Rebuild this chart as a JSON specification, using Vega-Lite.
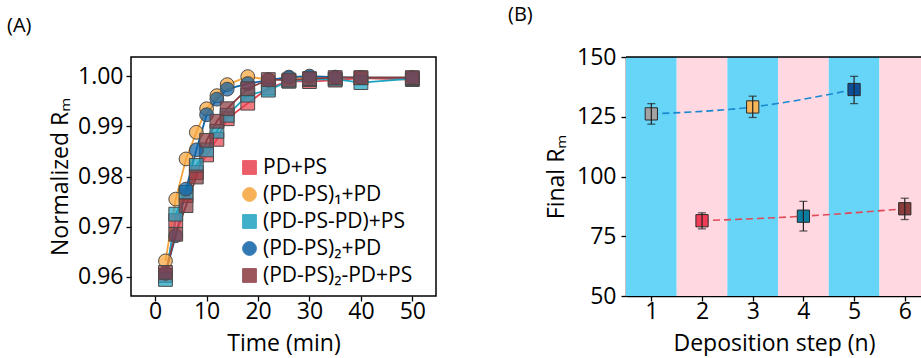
{
  "$schema": "https://vega.github.io/schema/vega-lite/v6.json",
  "padding": {"left": 6, "top": 5, "right": 0, "bottom": 0},
  "spacing": 71,
  "background": "white",
  "config": {
    "font": "Open Sans",
    "view": {"stroke": null},
    "axis": {
      "labelFont": "Open Sans", "labelFontSize": 23, "labelColor": "black",
      "titleFont": "Open Sans", "titleFontSize": 23, "titleFontWeight": "normal", "titleColor": "black",
      "tickColor": "black", "tickSize": 5, "tickWidth": 1.3,
      "domainColor": "black", "domainWidth": 1.5, "grid": false, "labelPadding": 3
    },
    "axisX": {"labelPadding": -1},
    "title": {"font": "Open Sans", "fontSize": 20, "fontWeight": "normal", "color": "black"}
  },
  "hconcat": [
    {
      "width": 305,
      "height": 239,
      "view": {"stroke": "black", "strokeWidth": 1.5},
      "title": {"text": "(A)", "anchor": "start", "frame": "group", "dx": -124, "offset": 5, "baseline": "alphabetic"},
      "data": {"values": [
        {"s": "PD+PS", "t": 2, "v": 0.9603}, {"s": "PD+PS", "t": 4, "v": 0.9712}, {"s": "PD+PS", "t": 6, "v": 0.9762}, {"s": "PD+PS", "t": 8, "v": 0.9808}, {"s": "PD+PS", "t": 10, "v": 0.9843}, {"s": "PD+PS", "t": 12, "v": 0.9874}, {"s": "PD+PS", "t": 14, "v": 0.9915}, {"s": "PD+PS", "t": 18, "v": 0.9946}, {"s": "PD+PS", "t": 22, "v": 0.9976}, {"s": "PD+PS", "t": 26, "v": 0.999}, {"s": "PD+PS", "t": 30, "v": 0.9989}, {"s": "PD+PS", "t": 35, "v": 0.9992}, {"s": "PD+PS", "t": 40, "v": 0.9996}, {"s": "PD+PS", "t": 50, "v": 0.9993},
        {"s": "(PD-PS)₁+PD", "t": 2, "v": 0.9632}, {"s": "(PD-PS)₁+PD", "t": 4, "v": 0.9755}, {"s": "(PD-PS)₁+PD", "t": 6, "v": 0.9835}, {"s": "(PD-PS)₁+PD", "t": 8, "v": 0.9888}, {"s": "(PD-PS)₁+PD", "t": 10, "v": 0.9935}, {"s": "(PD-PS)₁+PD", "t": 12, "v": 0.9961}, {"s": "(PD-PS)₁+PD", "t": 14, "v": 0.9983}, {"s": "(PD-PS)₁+PD", "t": 18, "v": 0.9999}, {"s": "(PD-PS)₁+PD", "t": 22, "v": 0.9993}, {"s": "(PD-PS)₁+PD", "t": 26, "v": 0.9996}, {"s": "(PD-PS)₁+PD", "t": 30, "v": 0.9997}, {"s": "(PD-PS)₁+PD", "t": 35, "v": 0.9997}, {"s": "(PD-PS)₁+PD", "t": 40, "v": 0.9997}, {"s": "(PD-PS)₁+PD", "t": 50, "v": 0.9997},
        {"s": "(PD-PS-PD)+PS", "t": 2, "v": 0.9595}, {"s": "(PD-PS-PD)+PS", "t": 4, "v": 0.9725}, {"s": "(PD-PS-PD)+PS", "t": 6, "v": 0.9768}, {"s": "(PD-PS-PD)+PS", "t": 8, "v": 0.9822}, {"s": "(PD-PS-PD)+PS", "t": 10, "v": 0.9853}, {"s": "(PD-PS-PD)+PS", "t": 12, "v": 0.989}, {"s": "(PD-PS-PD)+PS", "t": 14, "v": 0.9922}, {"s": "(PD-PS-PD)+PS", "t": 18, "v": 0.9962}, {"s": "(PD-PS-PD)+PS", "t": 22, "v": 0.9972}, {"s": "(PD-PS-PD)+PS", "t": 26, "v": 0.999}, {"s": "(PD-PS-PD)+PS", "t": 30, "v": 0.9993}, {"s": "(PD-PS-PD)+PS", "t": 35, "v": 0.9994}, {"s": "(PD-PS-PD)+PS", "t": 40, "v": 0.9987}, {"s": "(PD-PS-PD)+PS", "t": 50, "v": 0.9995},
        {"s": "(PD-PS)₂+PD", "t": 2, "v": 0.9607}, {"s": "(PD-PS)₂+PD", "t": 4, "v": 0.9682}, {"s": "(PD-PS)₂+PD", "t": 6, "v": 0.9775}, {"s": "(PD-PS)₂+PD", "t": 8, "v": 0.9853}, {"s": "(PD-PS)₂+PD", "t": 10, "v": 0.9923}, {"s": "(PD-PS)₂+PD", "t": 12, "v": 0.9954}, {"s": "(PD-PS)₂+PD", "t": 14, "v": 0.9974}, {"s": "(PD-PS)₂+PD", "t": 18, "v": 0.9985}, {"s": "(PD-PS)₂+PD", "t": 22, "v": 0.9992}, {"s": "(PD-PS)₂+PD", "t": 26, "v": 0.9998}, {"s": "(PD-PS)₂+PD", "t": 30, "v": 1.0}, {"s": "(PD-PS)₂+PD", "t": 35, "v": 0.9998}, {"s": "(PD-PS)₂+PD", "t": 40, "v": 0.9997}, {"s": "(PD-PS)₂+PD", "t": 50, "v": 0.9997},
        {"s": "(PD-PS)₂-PD+PS", "t": 2, "v": 0.9609}, {"s": "(PD-PS)₂-PD+PS", "t": 4, "v": 0.9685}, {"s": "(PD-PS)₂-PD+PS", "t": 6, "v": 0.9742}, {"s": "(PD-PS)₂-PD+PS", "t": 8, "v": 0.9799}, {"s": "(PD-PS)₂-PD+PS", "t": 10, "v": 0.9872}, {"s": "(PD-PS)₂-PD+PS", "t": 12, "v": 0.991}, {"s": "(PD-PS)₂-PD+PS", "t": 14, "v": 0.9935}, {"s": "(PD-PS)₂-PD+PS", "t": 18, "v": 0.9975}, {"s": "(PD-PS)₂-PD+PS", "t": 22, "v": 0.9993}, {"s": "(PD-PS)₂-PD+PS", "t": 26, "v": 0.9992}, {"s": "(PD-PS)₂-PD+PS", "t": 30, "v": 0.9995}, {"s": "(PD-PS)₂-PD+PS", "t": 35, "v": 0.9997}, {"s": "(PD-PS)₂-PD+PS", "t": 40, "v": 0.9997}, {"s": "(PD-PS)₂-PD+PS", "t": 50, "v": 0.9997}
      ]},
      "encoding": {
        "x": {"field": "t", "type": "quantitative", "scale": {"domain": [-4.7, 54.6], "nice": false, "zero": false},
              "axis": {"values": [0, 10, 20, 30, 40, 50], "title": "Time (min)", "domain": false, "titlePadding": 9}},
        "y": {"field": "v", "type": "quantitative", "scale": {"domain": [0.9562, 1.0038], "nice": false, "zero": false},
              "axis": {"values": [0.96, 0.97, 0.98, 0.99, 1.0], "format": ".2f", "title": "Normalized Rₘ", "domain": false, "titlePadding": 5}},
        "color": {"field": "s", "type": "nominal",
                  "scale": {"domain": ["PD+PS", "(PD-PS)₁+PD", "(PD-PS-PD)+PS", "(PD-PS)₂+PD", "(PD-PS)₂-PD+PS"],
                            "range": ["#e8424f", "#f6a53c", "#1fa2c0", "#0f62a6", "#8b3a40"]},
                  "legend": {
                    "title": null, "orient": "none", "legendX": 108, "legendY": 100, "padding": 0,
                    "labelFont": "Open Sans", "labelFontSize": 21, "labelColor": "black", "labelLimit": 400, "labelOffset": 3,
                    "symbolSize": 190, "rowPadding": 5, "symbolStrokeWidth": 1, "symbolStrokeColor": "#4a4a4a", "symbolOpacity": 0.85
                  }}
      },
      "layer": [
        {"mark": {"type": "line", "strokeWidth": 1.8}},
        {"mark": {"type": "point", "filled": true, "size": 190, "stroke": "#4a4a4a", "strokeWidth": 1, "fillOpacity": 0.72, "opacity": 1},
         "encoding": {"shape": {"field": "s", "type": "nominal", "legend": null,
                       "scale": {"domain": ["PD+PS", "(PD-PS)₁+PD", "(PD-PS-PD)+PS", "(PD-PS)₂+PD", "(PD-PS)₂-PD+PS"],
                                 "range": ["square", "circle", "square", "circle", "square"]}}}}
      ]
    },
    {
      "width": 296,
      "height": 239,
      "title": {"text": "(B)", "anchor": "start", "frame": "group", "dx": -118, "offset": 5, "baseline": "alphabetic"},
      "resolve": {"scale": {"color": "independent", "fill": "independent", "stroke": "independent"}},
      "layer": [
        {
          "data": {"values": [
            {"lo": 0.5, "hi": 1.5, "kind": "blue"}, {"lo": 1.5, "hi": 2.5, "kind": "pink"},
            {"lo": 2.5, "hi": 3.5, "kind": "blue"}, {"lo": 3.5, "hi": 4.5, "kind": "pink"},
            {"lo": 4.5, "hi": 5.5, "kind": "blue"}, {"lo": 5.5, "hi": 6.5, "kind": "pink"}
          ]},
          "mark": {"type": "rect", "clip": true},
          "encoding": {
            "x": {"field": "lo", "type": "quantitative", "scale": {"domain": [0.5, 6.34], "nice": false, "zero": false},
                  "axis": {"values": [1, 2, 3, 4, 5, 6], "title": "Deposition step (n)", "titlePadding": 9}},
            "x2": {"field": "hi"},
            "fill": {"field": "kind", "type": "nominal", "scale": {"domain": ["blue", "pink"], "range": ["#66d5f8", "#ffd8e2"]}, "legend": null}
          }
        },
        {
          "data": {"values": [
            {"step": 1, "val": 126.2, "lo": 121.9, "hi": 130.5, "grp": "odd"},
            {"step": 2, "val": 81.5, "lo": 78.1, "hi": 84.8, "grp": "even"},
            {"step": 3, "val": 129.1, "lo": 124.7, "hi": 133.6, "grp": "odd"},
            {"step": 4, "val": 83.4, "lo": 77.2, "hi": 89.6, "grp": "even"},
            {"step": 5, "val": 136.4, "lo": 130.5, "hi": 141.9, "grp": "odd"},
            {"step": 6, "val": 86.5, "lo": 82.0, "hi": 90.9, "grp": "even"}
          ]},
          "encoding": {
            "x": {"field": "step", "type": "quantitative", "axis": {"title": "Deposition step (n)"}},
            "y": {"field": "val", "type": "quantitative", "scale": {"domain": [50, 150], "nice": false, "zero": false},
                  "axis": {"values": [50, 75, 100, 125, 150], "title": "Final Rₘ", "titlePadding": 8, "labelPadding": 5}}
          },
          "layer": [
            {"mark": {"type": "line", "strokeDash": [7, 4], "strokeWidth": 1.6, "interpolate": "monotone"},
             "encoding": {"stroke": {"field": "grp", "type": "nominal", "scale": {"domain": ["odd", "even"], "range": ["#1a88d0", "#e04a58"]}, "legend": null}}},
            {"mark": {"type": "point", "shape": "square", "filled": true, "size": 150, "stroke": "#2a2a2a", "strokeWidth": 1, "opacity": 1},
             "encoding": {"color": {"field": "step", "type": "ordinal", "scale": {"domain": [1, 2, 3, 4, 5, 6], "range": ["#a3a3a3", "#f03c55", "#f7b55a", "#0a7da0", "#0b4f9a", "#8a3b3b"]}, "legend": null}}},
            {"mark": {"type": "rule", "color": "#222222", "strokeWidth": 1.2},
             "encoding": {"y": {"field": "lo", "type": "quantitative"}, "y2": {"field": "hi"}}},
            {"mark": {"type": "tick", "orient": "horizontal", "size": 8, "thickness": 1.3, "color": "#222222"},
             "encoding": {"y": {"field": "lo", "type": "quantitative"}}},
            {"mark": {"type": "tick", "orient": "horizontal", "size": 8, "thickness": 1.3, "color": "#222222"},
             "encoding": {"y": {"field": "hi", "type": "quantitative"}}}
          ]
        },
        {
          "data": {"values": [{"edge": "top"}]},
          "mark": {"type": "rule", "color": "black", "strokeWidth": 1.5},
          "encoding": {"y": {"datum": 150}}
        }
      ]
    }
  ]
}
